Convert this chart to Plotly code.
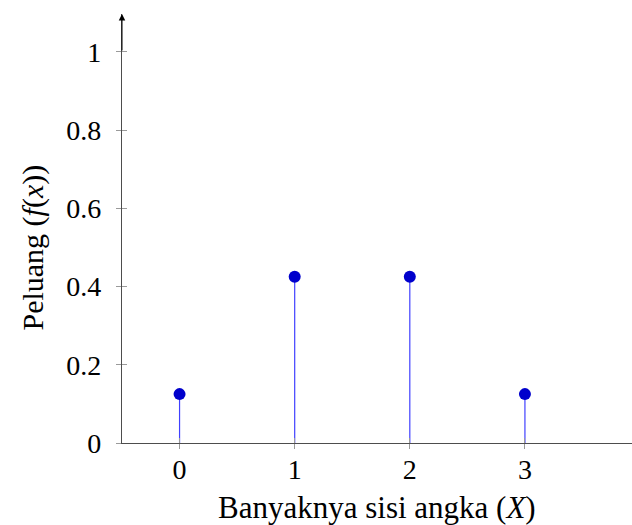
import plotly.graph_objects as go

x_vals = [0, 1, 2, 3]
probs = [0.125, 0.425, 0.425, 0.125]
y_ticks = [0, 0.2, 0.4, 0.6, 0.8, 1]
y_tick_text = ["0", "0.2", "0.4", "0.6", "0.8", "1"]
x_ticks = [0, 1, 2, 3]

FONT = "Liberation Serif"
AXIS_COLOR = "#4d4d4d"
TICK_COLOR = "#9a9a9a"

fig = go.Figure()
fig.add_trace(go.Scatter(
    x=x_vals, y=probs, mode="markers",
    marker=dict(color="#0000cc", size=12),
    error_y=dict(type="data", symmetric=False, array=[0] * len(probs),
                 arrayminus=probs, width=0, thickness=1.2, color="#4040ff"),
    showlegend=False, cliponaxis=False,
))
fig.add_trace(go.Scatter(x=x_vals, y=probs, xaxis="x2", yaxis="y2", mode="none",
                         showlegend=False, hoverinfo="skip"))

xr = [-0.5, 3.93]
yr = [0, 1.097]
fig.update_layout(
    width=632, height=525,
    margin=dict(l=122, r=0, t=14, b=82),
    plot_bgcolor="white", paper_bgcolor="white",
    font=dict(family=FONT, size=28, color="black"),
    xaxis=dict(range=xr, tickvals=x_ticks, ticks="outside", ticklen=5, tickcolor=TICK_COLOR,
               showline=True, linecolor=AXIS_COLOR, linewidth=1.2, showgrid=False, zeroline=False,
               ticklabelstandoff=-4, tickfont=dict(family=FONT, size=28), automargin=False),
    yaxis=dict(range=yr, tickvals=y_ticks, ticktext=y_tick_text, ticks="outside", ticklen=5,
               tickcolor=TICK_COLOR, showline=True, linecolor=AXIS_COLOR, linewidth=1.2,
               showgrid=False, zeroline=False, ticklabelstandoff=9,
               tickfont=dict(family=FONT, size=28), automargin=False),
    xaxis2=dict(range=xr, overlaying="x", tickvals=x_ticks, ticks="inside", ticklen=5,
                tickcolor=TICK_COLOR, showticklabels=False, showgrid=False, zeroline=False,
                showline=False),
    yaxis2=dict(range=yr, overlaying="y", tickvals=y_ticks, ticks="inside", ticklen=5,
                tickcolor=TICK_COLOR, showticklabels=False, showgrid=False, zeroline=False,
                showline=False),
    annotations=[
        dict(text="Banyaknya sisi angka (<i>X</i>)", xref="paper", yref="paper",
             x=0.5, y=-0.15, xanchor="center", yanchor="middle", showarrow=False,
             font=dict(family=FONT, size=31)),
        dict(text="Peluang (<i>f</i>(<i>x</i>))", xref="paper", yref="paper",
             x=-0.175, y=0.455, xanchor="center", yanchor="middle", showarrow=False,
             textangle=-90, font=dict(family=FONT, size=30)),
        dict(x=-0.5, y=1.097, ax=-0.5, ay=1.0, xref="x", yref="y", axref="x", ayref="y",
             text="", showarrow=True, arrowhead=2, arrowsize=1.3, arrowwidth=1,
             arrowcolor="black"),
    ],
)
fig.write_html("out.html", post_script="document.body.style.margin='0';",
               config={"displayModeBar": False})
